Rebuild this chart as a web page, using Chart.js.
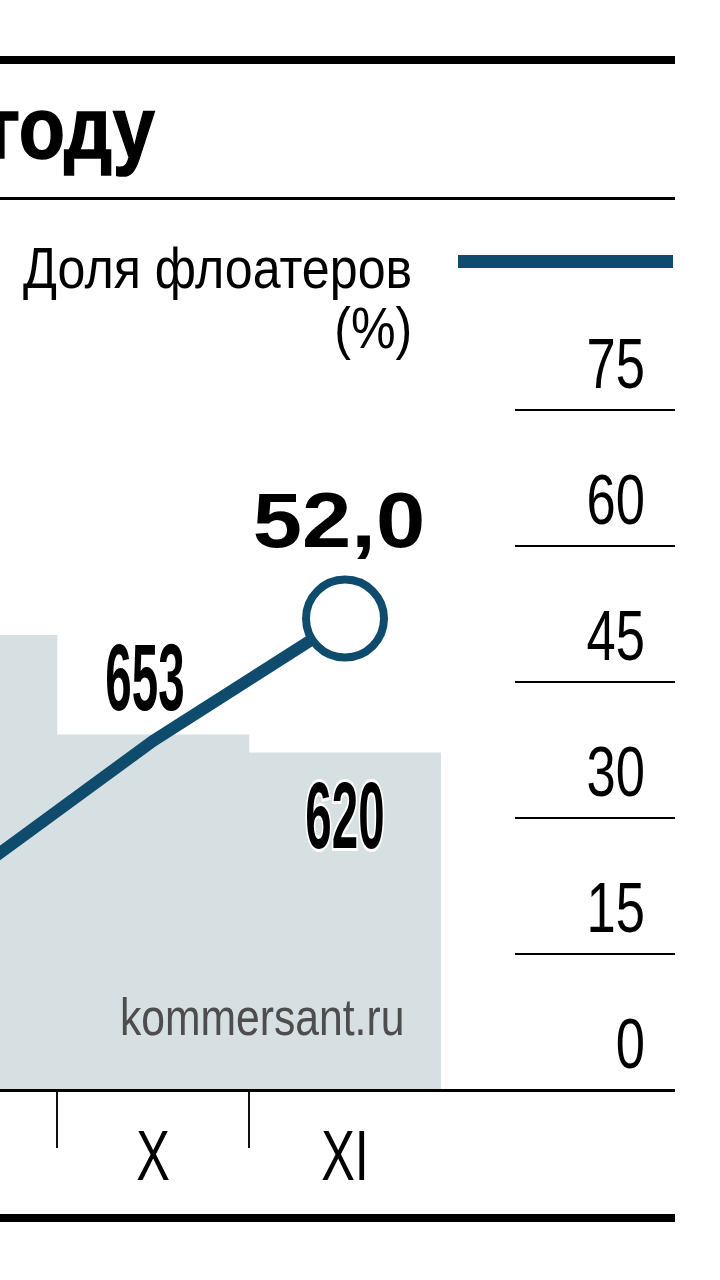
<!DOCTYPE html>
<html lang="ru">
<head>
<meta charset="utf-8">
<title>Доля флоатеров</title>
<script src="https://cdn.jsdelivr.net/npm/chart.js@4"></script>
<style>
  html, body { margin: 0; padding: 0; background: #fff; }
  body { width: 720px; height: 1280px; position: relative; overflow: hidden;
         font-family: "Liberation Sans", Arial, sans-serif; color: #000; }
  .rule { position: absolute; left: 0; width: 675px; background: #000; z-index: 2; }
  .title { position: absolute; right: 565px; top: 84px; font-weight: bold; font-size: 88px;
           line-height: 1; white-space: nowrap; transform: scaleX(0.86); transform-origin: right center;
           -webkit-text-stroke: 1.5px #000; }
  .legend { position: absolute; right: 308px; top: 238px; font-size: 57px; line-height: 60px;
            text-align: right; white-space: nowrap; transform: scaleX(0.88); transform-origin: right center; }
  .legend-line { position: absolute; left: 458px; top: 255px; width: 215px; height: 13px; background: #0e4b6c; }
  .source { position: absolute; left: 120px; top: 991px; font-size: 52px; line-height: 1; color: #4d4d4d;
            white-space: nowrap; transform: scaleX(0.82); transform-origin: left center; z-index: 2; }
  #wrap { position: absolute; left: -135px; top: 0; width: 810px; height: 1280px; }
</style>
</head>
<body>
<div class="rule" style="top:56px;height:8px"></div>
<div class="title">году</div>
<div class="rule" style="top:197px;height:3px"></div>
<div class="legend">Доля флоатеров<br>(%)</div>
<div class="legend-line"></div>
<div id="wrap"><canvas id="chart"></canvas></div>
<div class="source">kommersant.ru</div>
<div class="rule" style="top:1089px;height:3px"></div>
<div class="rule" style="top:1214px;height:8px"></div>
<script>
'use strict';

const FONT = '"Liberation Sans", Arial, sans-serif';
const BLUE = '#0e4b6c';

// months (IX is cut off on the left in the original)
const months = ['IX', 'X', 'XI'];
// bars: count, IX
const counts = [836, 653, 620];
// line: share of floaters, %
const floaterShare = [23.0, 38.5, 52.0];
// right axis ticks
const shareTicks = [0, 15, 30, 45, 60, 75];

// where each bar label sits (IX label is outside the crop)
const countLabelPos = [null, 'above', 'inside'];

// draw text squeezed horizontally (the original uses a condensed face)
function narrowText(ctx, text, x, y, font, sx, align) {
  ctx.save();
  ctx.translate(x, y);
  ctx.scale(sx, 1);
  ctx.font = font;
  ctx.textAlign = align || 'center';
  ctx.textBaseline = 'alphabetic';
  ctx.fillText(text, 0, 0);
  ctx.restore();
}

// axis labels, taken from the scales' own ticks
const axisLabels = {
  id: 'axisLabels',
  afterDraw(chart) {
    const ctx = chart.ctx;
    ctx.save();
    ctx.fillStyle = '#000';
    const x = chart.scales.x;
    x.ticks.forEach((t, i) => {
      narrowText(ctx, x.getLabelForValue(t.value), x.getPixelForTick(i), 1180, '70px ' + FONT, 0.72);
    });
    const y2 = chart.scales.y2;
    y2.ticks.forEach(t => {
      narrowText(ctx, String(t.value), y2.left + 204, y2.getPixelForValue(t.value) - 22, '70px ' + FONT, 0.75, 'right');
    });
    ctx.restore();
  }
};

const valueLabels = {
  id: 'valueLabels',
  afterDatasetsDraw(chart) {
    const ctx = chart.ctx;
    const bars = chart.getDatasetMeta(1).data;
    ctx.save();
    bars.forEach((bar, i) => {
      const pos = countLabelPos[i];
      if (!pos) return;
      ctx.save();
      const y = pos === 'above' ? bar.y - 25 : bar.y + 95;
      ctx.translate(pos === 'above' ? bar.x - 8 : bar.x, y);
      ctx.scale(0.5, 1);
      ctx.font = 'bold 95px ' + FONT;
      ctx.textAlign = 'center';
      ctx.textBaseline = 'alphabetic';
      if (pos === 'inside') {
        ctx.lineWidth = 6;
        ctx.strokeStyle = '#fff';
        ctx.strokeText(String(counts[i]), 0, 0);
      }
      ctx.fillStyle = '#000';
      ctx.fillText(String(counts[i]), 0, 0);
      ctx.restore();
    });

    // last value of the line
    const pts = chart.getDatasetMeta(0).data;
    const last = pts[pts.length - 1];
    const v = floaterShare[floaterShare.length - 1];
    ctx.fillStyle = '#000';
    narrowText(ctx, v.toFixed(1).replace('.', ','), last.x - 6, last.y - 72, 'bold 77px ' + FONT, 1.15);
    ctx.restore();
  }
};

new Chart(document.getElementById('chart'), {
  data: {
    labels: months,
    datasets: [
      {
        type: 'line',
        label: 'Доля флоатеров (%)',
        data: floaterShare,
        yAxisID: 'y2',
        borderColor: BLUE,
        borderWidth: 12,
        tension: 0,
        pointRadius: [0, 0, 39],
        pointBorderWidth: 8,
        pointBorderColor: BLUE,
        pointBackgroundColor: '#fff',
        order: 0
      },
      {
        type: 'bar',
        label: 'Количество',
        data: counts,
        yAxisID: 'y',
        backgroundColor: '#d6dfe1',
        borderWidth: 0,
        barPercentage: 1,
        categoryPercentage: 1,
        order: 1
      }
    ]
  },
  options: {
    responsive: true,
    maintainAspectRatio: false,
    animation: false,
    layout: { autoPadding: false, padding: { top: 410, left: 0, right: 0, bottom: 0 } },
    plugins: { legend: { display: false }, tooltip: { enabled: false } },
    scales: {
      x: {
        position: 'bottom',
        offset: true,
        grid: {
          offset: true, drawOnChartArea: false, drawTicks: true, tickLength: 58, lineWidth: 2,
          color: c => (c.type === 'tick' ? '#111' : 'rgba(0,0,0,0)')
        },
        border: { display: true, color: '#000', width: 3 },
        ticks: { display: false },
        afterFit: s => { s.height = 190; }
      },
      y: {
        display: false,
        min: 0,
        max: 1250
      },
      y2: {
        position: 'right',
        min: 0,
        max: 75,
        afterBuildTicks: s => { s.ticks = shareTicks.map(v => ({ value: v })); },
        grid: {
          drawOnChartArea: false, drawTicks: true, tickLength: 234,
          tickBorderDash: [0, 74, 160, 0], color: '#000', lineWidth: 2
        },
        border: { display: false },
        ticks: { display: false },
        afterFit: s => { s.width = 234; }
      }
    }
  },
  plugins: [valueLabels, axisLabels]
});
</script>
</body>
</html>
